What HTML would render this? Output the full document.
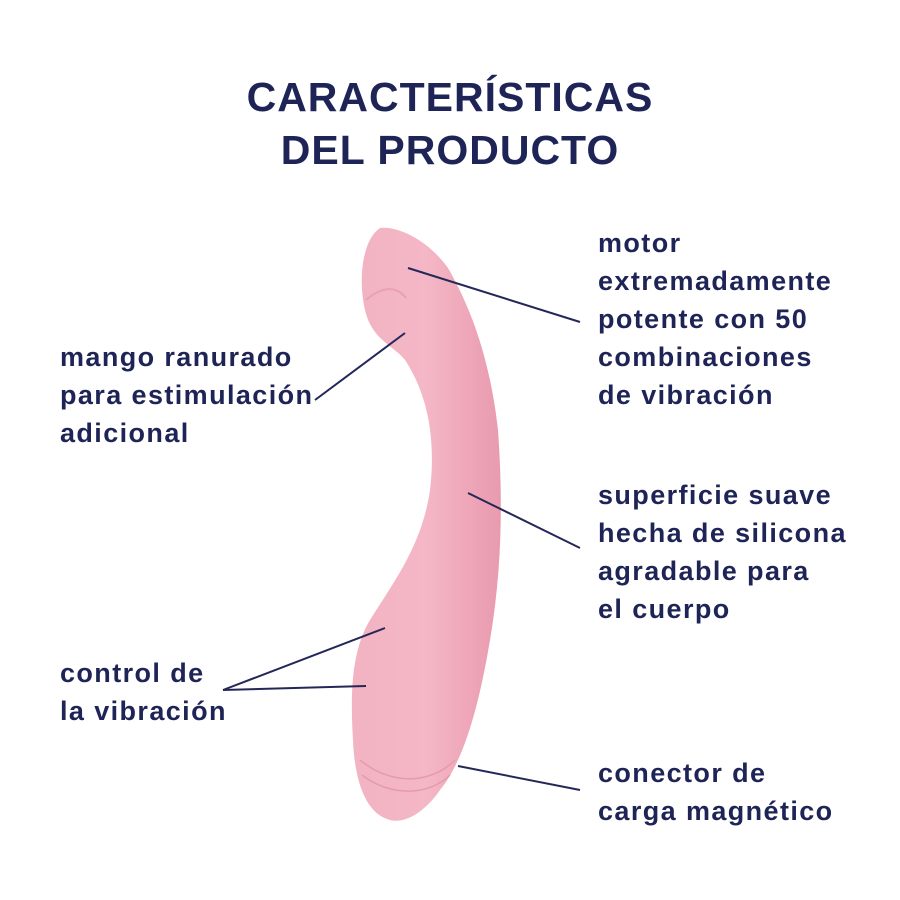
<!DOCTYPE html>
<html><head><meta charset="utf-8"><style>
body{margin:0;width:900px;height:900px;background:#fff;overflow:hidden;position:relative;font-family:"Liberation Sans",sans-serif;color:#1f2457}
.t{position:absolute;left:0;width:900px;text-align:center;font-weight:bold;font-size:41px;letter-spacing:1px}
.l{position:absolute;font-size:27px;font-weight:bold;letter-spacing:1.4px;line-height:38px;white-space:nowrap}
svg{position:absolute;left:0;top:0}
</style></head><body>
<div class="t" style="top:74px">CARACTERÍSTICAS</div>
<div class="t" style="top:127px">DEL PRODUCTO</div>
<svg width="900" height="900">
<defs><linearGradient id="g" x1="0" x2="1"><stop offset="0" stop-color="#f2b3c2"/><stop offset=".5" stop-color="#f4b7c6"/><stop offset="1" stop-color="#e99aae"/></linearGradient></defs>
<path d="M380,228 C398,226 428,240 448,268 C472,310 490,360 498,430 C503,500 502,570 490,640 C480,700 465,760 440,790 C425,812 405,824 390,820 C370,815 355,790 353,740 C350,690 352,650 370,620 C395,580 422,545 430,490 C436,440 428,395 405,360 C393,345 372,340 365,310 C358,280 362,240 380,228 Z" fill="url(#g)"/>
<path d="M366,300 C380,288 395,284 406,298" stroke="#e8a0b2" stroke-width="2" fill="none"/>
<path d="M360,760 C390,785 430,785 455,760 M362,775 C392,798 430,795 450,775" stroke="#e59aae" stroke-width="1.5" fill="none"/>
<g stroke="#232858" stroke-width="2" fill="none">
<line x1="408" y1="268" x2="580" y2="322"/>
<line x1="405" y1="333" x2="315" y2="400"/>
<line x1="468" y1="493" x2="580" y2="548"/>
<line x1="385" y1="628" x2="223" y2="690"/>
<line x1="366" y1="686" x2="223" y2="690"/>
<line x1="458" y1="766" x2="580" y2="790"/>
</g>
</svg>
<div class="l" style="left:598px;top:224px">motor<br>extremadamente<br>potente con 50<br>combinaciones<br>de vibración</div>
<div class="l" style="left:60px;top:338px">mango ranurado<br>para estimulación<br>adicional</div>
<div class="l" style="left:598px;top:476px">superficie suave<br>hecha de silicona<br>agradable para<br>el cuerpo</div>
<div class="l" style="left:60px;top:654px">control de<br>la vibración</div>
<div class="l" style="left:598px;top:754px">conector de<br>carga magnético</div>
</body></html>
